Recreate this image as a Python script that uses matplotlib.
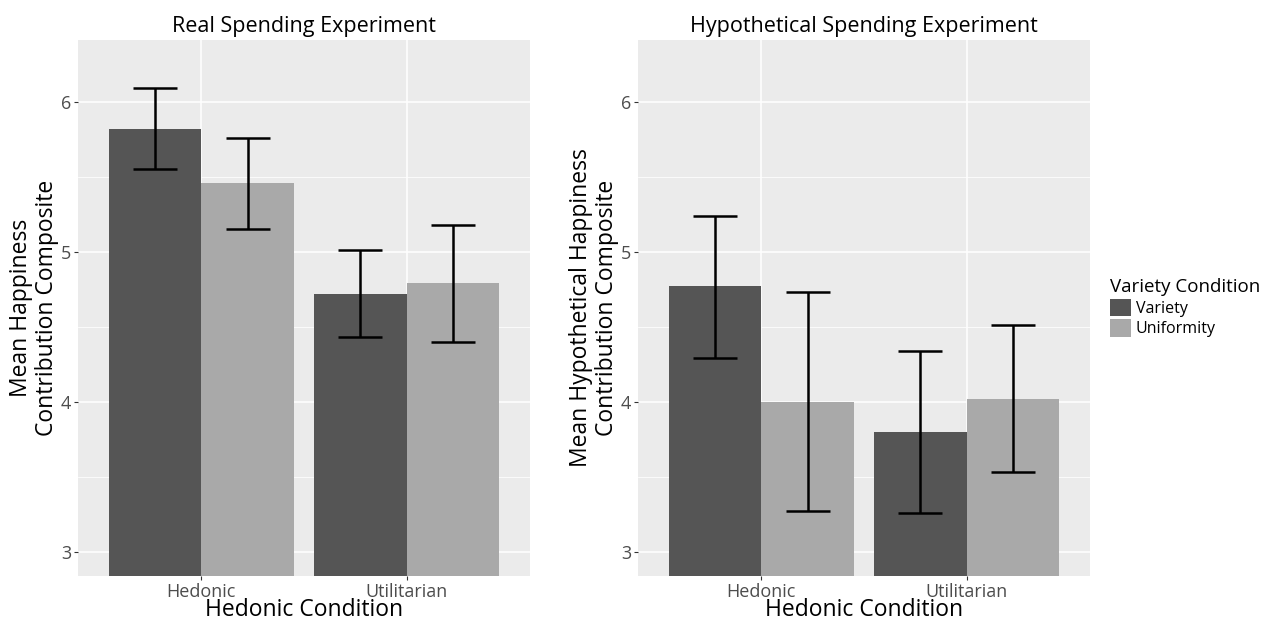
import numpy as np
import matplotlib.pyplot as plt
from matplotlib.patches import Patch

plt.rcParams['font.family'] = ['Open Sans', 'DejaVu Sans']

conditions = ["Hedonic", "Utilitarian"]
groups = ["Variety", "Uniformity"]
colors = ["#555555", "#a9a9a9"]

# real spending experiment: means and error bar ends (variety, uniformity)
real_mean = [[5.82, 4.72], [5.46, 4.79]]
real_low = [[5.55, 4.43], [5.15, 4.40]]
real_high = [[6.09, 5.01], [5.76, 5.18]]

# hypothetical spending experiment
hyp_mean = [[4.77, 3.80], [4.00, 4.02]]
hyp_low = [[4.29, 3.26], [3.27, 3.53]]
hyp_high = [[5.24, 4.34], [4.73, 4.51]]

panels = [
    ("Real Spending Experiment", "Mean Happiness\nContribution Composite",
     real_mean, real_low, real_high),
    ("Hypothetical Spending Experiment", "Mean Hypothetical Happiness\nContribution Composite",
     hyp_mean, hyp_low, hyp_high),
]

W, H = 1265, 622
fig = plt.figure(figsize=(W / 100, H / 100), dpi=100)
lefts = [78, 638]

for left, (title, ylab, mean, low, high) in zip(lefts, panels):
    ax = fig.add_axes([left / W, 1 - 576 / H, 452 / W, 536 / H])
    ax.set_facecolor("#ebebeb")
    x = np.arange(1, len(conditions) + 1)
    bw = 0.45
    for i, g in enumerate(groups):
        pos = x + (i - 0.5) * bw
        m = np.array(mean[i])
        ax.bar(pos, m, width=bw, color=colors[i], zorder=3)
        lo = m - np.array(low[i])
        hi = np.array(high[i]) - m
        ax.errorbar(pos, m, yerr=[lo, hi], fmt="none", ecolor="black",
                    elinewidth=1.8, capsize=15.5, capthick=1.8, zorder=4)
    ax.set_xlim(0.4, 2.6)
    ax.set_ylim(2.84, 6.413)
    ax.set_xticks(x)
    ax.set_xticklabels(conditions)
    ax.set_yticks([3, 4, 5, 6])
    ax.set_yticks([3.5, 4.5, 5.5], minor=True)
    ax.grid(True, which="major", color="white", linewidth=1.1, zorder=1)
    ax.grid(True, which="minor", axis="y", color="white", linewidth=0.55, zorder=1)
    ax.tick_params(which="major", length=3, width=0.8, color="#333333",
                   labelsize=13, labelcolor="#4d4d4d", pad=2)
    ax.tick_params(which="minor", length=0)
    for s in ax.spines.values():
        s.set_visible(False)
    ax.set_title(title, fontsize=15.5, pad=6)
    ax.set_xlabel("Hedonic Condition", fontsize=16.5, labelpad=-2)
    ax.set_ylabel(ylab, fontsize=16.5, labelpad=1, linespacing=1.12)

handles = [Patch(facecolor=c, edgecolor="none") for c in colors]
fig.legend(handles, groups, title="Variety Condition", loc="upper left",
           bbox_to_anchor=(1104 / W, 1 - 272 / H), frameon=False,
           fontsize=11.5, title_fontsize=13.5, handlelength=1.3, handleheight=1.3,
           handletextpad=0.3, labelspacing=0.15, borderaxespad=0, alignment="left")

fig.savefig("out.png", dpi=100)
